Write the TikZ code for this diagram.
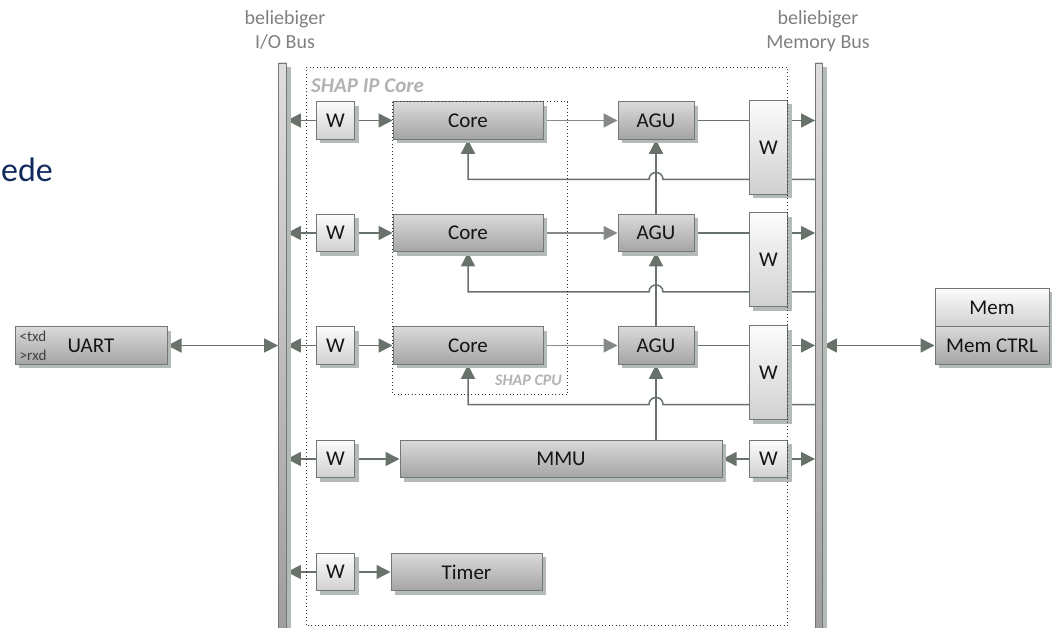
\documentclass[tikz,border=0pt]{standalone}
\usepackage{fontspec}
\setmainfont{Carlito}
\usetikzlibrary{arrows.meta,shadows,calc,backgrounds}

\definecolor{linec}{RGB}{104,114,106}
\definecolor{feedc}{RGB}{134,138,135}
\definecolor{bordc}{RGB}{112,122,114}
\definecolor{shadc}{RGB}{180,186,181}
\definecolor{labelc}{RGB}{128,128,128}
\definecolor{groupc}{RGB}{178,178,178}
\definecolor{dotc}{RGB}{50,50,50}
\definecolor{titlec}{RGB}{17,43,92}
\definecolor{darktop}{RGB}{218,218,218}
\definecolor{darkbot}{RGB}{164,164,164}
\definecolor{lighttop}{RGB}{252,252,252}
\definecolor{lightbot}{RGB}{208,208,208}

\begin{document}
\begin{tikzpicture}[
  x=1pt, y=-1pt,
  unitbox/.style={draw=bordc, line width=1pt, inner sep=0pt,
    minimum height=37.6pt, text=black!92,
    font=\fontsize{21}{25}\selectfont,
    drop shadow={shadow xshift=4pt, shadow yshift=-4pt, fill=shadc, opacity=1}},
  darkbox/.style={unitbox, top color=darktop, bottom color=darkbot},
  wrapbox/.style={unitbox, top color=lighttop, bottom color=lightbot, minimum width=38.5pt},
  busbar/.style={draw=bordc, line width=0.9pt, inner sep=0pt,
    top color=black!13, bottom color=black!38, minimum height=566pt,
    drop shadow={shadow xshift=4pt, shadow yshift=-4pt, fill=shadc, opacity=1}},
  buslabel/.style={inner sep=0pt, anchor=base, text=labelc, font=\fontsize{20}{24}\selectfont},
  grouplabel/.style={inner sep=0pt, text=groupc, font=\bfseries\itshape},
  pinlabel/.style={inner sep=0pt, anchor=base west, text=black!75, font=\fontsize{15}{17}\selectfont},
  wire/.style={draw=linec, line width=1.5pt},
  conn/.style={wire, -{Triangle[length=14pt,width=14pt]}},
  both/.style={wire, {Triangle[length=14pt,width=14pt]}-{Triangle[length=14pt,width=14pt]}},
  softconn/.style={conn, draw=feedc},
  dotbox/.style={draw=dotc, line width=0.9pt, dash pattern=on 0.9pt off 2.6pt}
]
\useasboundingbox (0,0) rectangle (1052,628);

% slide title fragment
\node[anchor=base west, inner sep=0pt, text=titlec,
      font=\fontsize{34}{40}\selectfont] (title) at (1,181.5) {ede};

% the two buses
\node[busbar, minimum width=8pt] (iobus) at (282.5,346) {};
\node[busbar, minimum width=7pt] (mbus) at (819,346) {};
\node[buslabel] (iolab1) at (285,25) {beliebiger};
\node[buslabel] (iolab2) at (285,49) {I/O Bus};
\node[buslabel] (mlab1) at (818,25) {beliebiger};
\node[buslabel] (mlab2) at (818,49) {Memory Bus};

% three CPU rows: wrapper, core, AGU, memory wrapper
\foreach \i/\r in {1/120.5, 2/233, 3/345.5} {
  \node[wrapbox] (wl\i) at (335.5,\r) {W};
  \node[darkbox, minimum width=150pt] (core\i) at (468,\r) {Core};
  \node[darkbox, minimum width=76pt] (agu\i) at (656,\r) {AGU};
  \node[wrapbox, minimum height=94pt] (wr\i) at (768.5,\r+27) {W};
  \coordinate (fb\i) at (815.5,\r+59);
}

% MMU row
\node[wrapbox] (wm1) at (335.5,459) {W};
\node[darkbox, minimum width=322pt] (mmu) at (561,459) {MMU};
\node[wrapbox] (wm2) at (768.5,459) {W};

% Timer row
\node[wrapbox] (wt) at (335.5,572) {W};
\node[darkbox, minimum width=151pt] (timer) at (466.5,572) {Timer};

% UART
\node[darkbox, minimum width=152pt] (uart) at (91,345.5) {UART};
\node[pinlabel] (txd) at (19.5,341.5) {<txd};
\node[pinlabel] (rxd) at (19.5,360) {>rxd};

% memory
\node[wrapbox, minimum width=114pt, minimum height=38.4pt] (mem) at (992,307.5) {Mem};
\node[darkbox, minimum width=114pt] (memctrl) at (992,345.5) {Mem CTRL};

% connectors
\begin{scope}[on background layer]
  \foreach \i in {1,2,3} {
    \draw[conn] (wl\i.west) -- (iobus.east |- wl\i.west);
    \draw[conn] (wl\i.east) -- (core\i.west);
    \draw[softconn] (core\i.east) -- (agu\i.west);
    \draw[conn] (agu\i.east) -- (mbus.west |- agu\i.east);
    \draw[conn] (fb\i)
      -- ($(agu\i.south |- fb\i)+(7,0)$)
      .. controls +(0,-9.3) and +(0,-9.3) .. ($(agu\i.south |- fb\i)+(-7,0)$)
      -- (core\i.south |- fb\i) -- (core\i.south);
  }
  \draw[conn] (agu3.south |- mmu.north) -- (agu3.south);
  \draw[conn] (agu3.north) -- (agu2.south);
  \draw[conn] (agu2.north) -- (agu1.south);

  \draw[conn] (wm1.west) -- (iobus.east |- wm1.west);
  \draw[conn] (wm1.east) -- (mmu.west);
  \draw[conn] (wm2.west) -- (mmu.east);
  \draw[conn] (wm2.east) -- (mbus.west |- wm2.east);

  \draw[conn] (wt.west) -- (iobus.east |- wt.west);
  \draw[conn] (wt.east) -- (timer.west);

  \draw[both] (uart.east) -- (iobus.west |- uart.east);
  \draw[both] (mbus.east |- memctrl.west) -- (memctrl.west);
\end{scope}

% grouping frames
\draw[dotbox] (306,67) rectangle (787.5,625.5);
\draw[dotbox] (392.7,101.7) rectangle (567.7,394.3);
\node[grouplabel, anchor=base west, font=\fontsize{21}{25}\selectfont\bfseries\itshape] (iplab) at (311,92.5) {SHAP IP Core};
\node[grouplabel, anchor=base east, font=\fontsize{16}{19}\selectfont\bfseries\itshape] (cpulab) at (562,385) {SHAP CPU};
\end{tikzpicture}
\end{document}
